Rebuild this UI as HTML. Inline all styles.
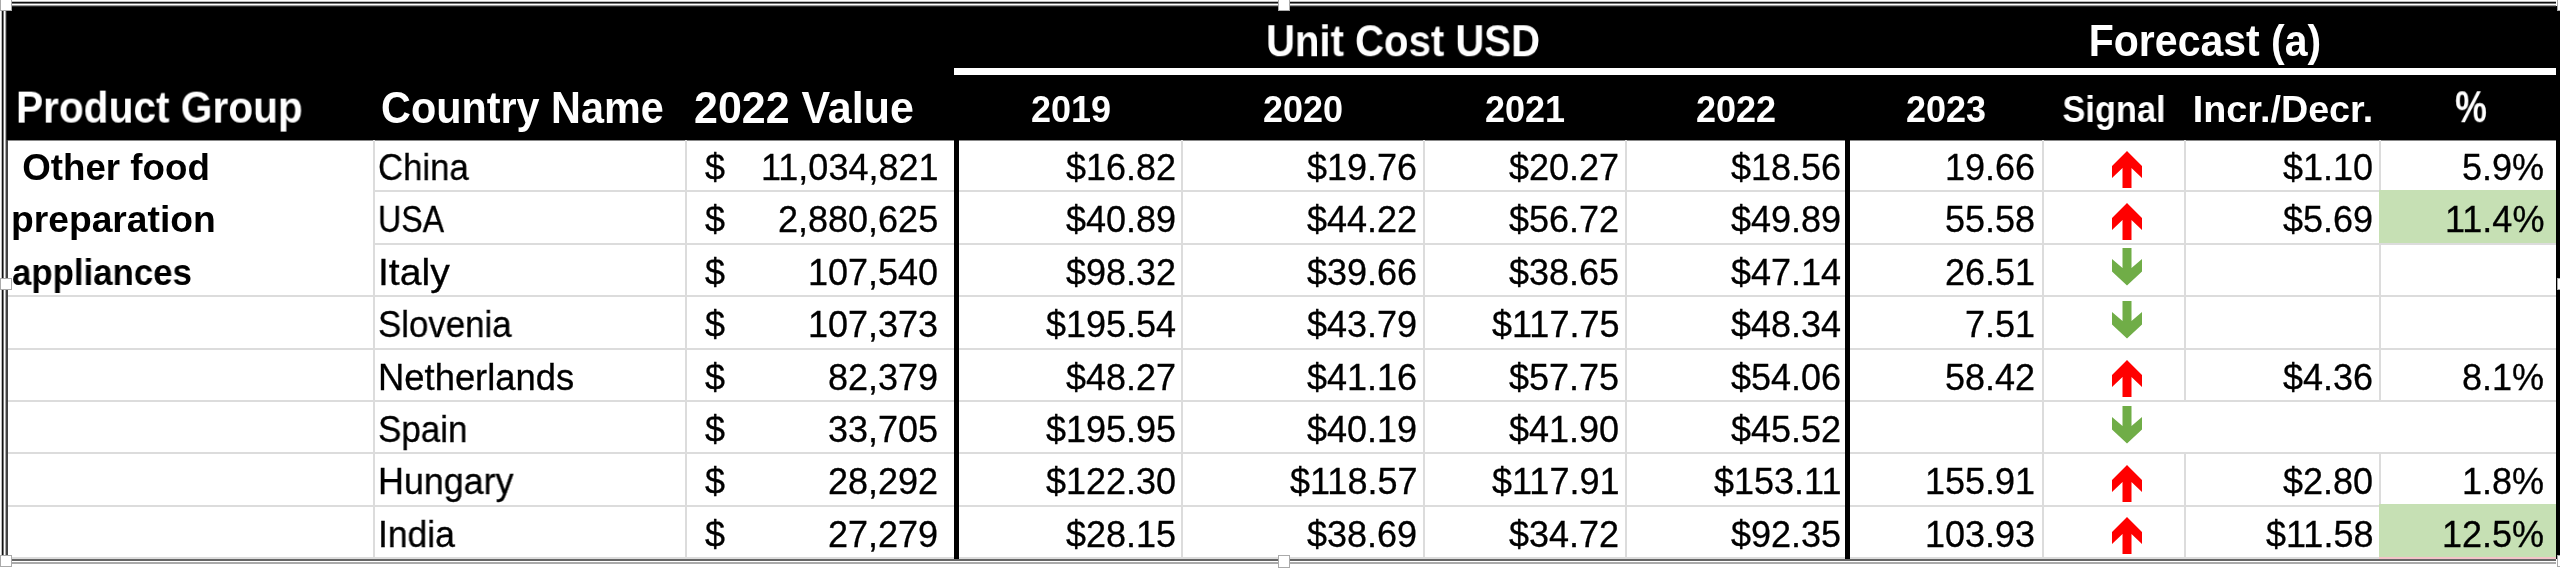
<!DOCTYPE html>
<html><head><meta charset="utf-8"><style>
html,body{margin:0;padding:0;}
body{width:2560px;height:571px;overflow:hidden;position:relative;background:#fff;font-family:"Liberation Sans",sans-serif;}
body>div,body>svg{position:absolute;}
.t{white-space:pre;will-change:transform;}
.r{-webkit-text-stroke:0.3px #000;}
</style></head><body>
<div style="left:0px;top:0px;width:2560px;height:571px;background:#fff;"></div>
<div style="left:6px;top:6px;width:2550px;height:134px;background:#000;"></div>
<div style="left:6px;top:6px;width:2550px;height:1px;background:#2a2a2a;"></div>
<div style="left:6px;top:140px;width:2550px;height:1px;background:#888;"></div>
<div style="left:6px;top:6px;width:1px;height:134px;background:#2a2a2a;"></div>
<div style="left:11px;top:2px;width:2545px;height:1px;background:#111;"></div>
<div style="left:11px;top:1px;width:2545px;height:1px;background:#bbb;"></div>
<div style="left:11px;top:3px;width:2545px;height:1px;background:#777;"></div>
<div style="left:11px;top:5px;width:2545px;height:1px;background:#999;"></div>
<div style="left:2px;top:11px;width:1px;height:550px;background:#111;"></div>
<div style="left:1px;top:11px;width:1px;height:550px;background:#bbb;"></div>
<div style="left:3px;top:11px;width:1px;height:550px;background:#777;"></div>
<div style="left:5px;top:11px;width:1px;height:550px;background:#aaa;"></div>
<div style="left:6px;top:140px;width:2px;height:420px;background:#444;"></div>
<div style="left:954px;top:68px;width:1602px;height:7px;background:#fff;"></div>
<div style="left:373px;top:190px;width:2183px;height:2px;background:#dcdcdc;"></div>
<div style="left:373px;top:243px;width:2183px;height:2px;background:#dcdcdc;"></div>
<div style="left:8px;top:295px;width:2548px;height:2px;background:#dcdcdc;"></div>
<div style="left:8px;top:348px;width:2548px;height:2px;background:#dcdcdc;"></div>
<div style="left:8px;top:400px;width:2548px;height:2px;background:#dcdcdc;"></div>
<div style="left:8px;top:452px;width:2548px;height:2px;background:#dcdcdc;"></div>
<div style="left:8px;top:505px;width:2548px;height:2px;background:#dcdcdc;"></div>
<div style="left:8px;top:557px;width:2548px;height:2px;background:#dcdcdc;"></div>
<div style="left:373px;top:140px;width:2px;height:417px;background:#dcdcdc;"></div>
<div style="left:685px;top:140px;width:2px;height:417px;background:#dcdcdc;"></div>
<div style="left:1181px;top:140px;width:2px;height:417px;background:#dcdcdc;"></div>
<div style="left:1423px;top:140px;width:2px;height:417px;background:#dcdcdc;"></div>
<div style="left:1625px;top:140px;width:2px;height:417px;background:#dcdcdc;"></div>
<div style="left:2042px;top:140px;width:2px;height:417px;background:#dcdcdc;"></div>
<div style="left:2184px;top:140px;width:2px;height:260px;background:#dcdcdc;"></div>
<div style="left:2184px;top:454px;width:2px;height:103px;background:#dcdcdc;"></div>
<div style="left:2379px;top:140px;width:2px;height:260px;background:#dcdcdc;"></div>
<div style="left:2379px;top:454px;width:2px;height:103px;background:#dcdcdc;"></div>
<div style="left:2379px;top:190px;width:177px;height:53px;background:#c6e0b4;"></div>
<div style="left:2379px;top:504px;width:177px;height:53px;background:#c6e0b4;"></div>
<div style="left:954px;top:140px;width:5px;height:419px;background:#000;"></div>
<div style="left:1845px;top:140px;width:5px;height:419px;background:#000;"></div>
<div style="left:2556px;top:6px;width:4px;height:553px;background:#000;"></div>
<div style="left:2379px;top:557px;width:177px;height:2px;background:#f2c4c8;"></div>
<div style="left:8px;top:559px;width:2548px;height:2px;background:#666;"></div>
<div style="left:8px;top:562px;width:2548px;height:2px;background:#aaa;"></div>
<div class="t" style="left:16.00px;top:88.59px;font-size:41px;line-height:41px;font-weight:bold;color:#fff;transform:scale(0.991,1.09);transform-origin:left 34.71px;">Product Group</div>
<div class="t" style="left:381.00px;top:88.59px;font-size:41px;line-height:41px;font-weight:bold;color:#fff;transform:scale(1.009,1.09);transform-origin:left 34.71px;">Country Name</div>
<div class="t" style="left:694.10px;top:88.59px;font-size:41px;line-height:41px;font-weight:bold;color:#fff;transform:scale(1.048,1.09);transform-origin:left 34.71px;">2022 Value</div>
<div class="t" style="left:903.00px;width:1000px;text-align:center;top:21.89px;font-size:41px;line-height:41px;font-weight:bold;color:#fff;transform:scale(0.978,1.1);transform-origin:center 34.71px;">Unit Cost USD</div>
<div class="t" style="left:1704.70px;width:1000px;text-align:center;top:21.89px;font-size:41px;line-height:41px;font-weight:bold;color:#fff;transform:scale(1.0,1.09);transform-origin:center 34.71px;">Forecast (a)</div>
<div class="t" style="left:570.70px;width:1000px;text-align:center;top:92.23px;font-size:36px;line-height:36px;font-weight:bold;color:#fff;">2019</div>
<div class="t" style="left:803.00px;width:1000px;text-align:center;top:92.23px;font-size:36px;line-height:36px;font-weight:bold;color:#fff;">2020</div>
<div class="t" style="left:1024.50px;width:1000px;text-align:center;top:92.23px;font-size:36px;line-height:36px;font-weight:bold;color:#fff;">2021</div>
<div class="t" style="left:1236.30px;width:1000px;text-align:center;top:92.23px;font-size:36px;line-height:36px;font-weight:bold;color:#fff;">2022</div>
<div class="t" style="left:1446.00px;width:1000px;text-align:center;top:92.23px;font-size:36px;line-height:36px;font-weight:bold;color:#fff;">2023</div>
<div class="t" style="left:1613.70px;width:1000px;text-align:center;top:92.23px;font-size:36px;line-height:36px;font-weight:bold;color:#fff;transform:scale(0.955,1.0);transform-origin:center 30.47px;">Signal</div>
<div class="t" style="left:1783.00px;width:1000px;text-align:center;top:92.23px;font-size:36px;line-height:36px;font-weight:bold;color:#fff;transform:scale(1.048,1.0);transform-origin:center 30.47px;">Incr./Decr.</div>
<div class="t" style="left:1970.50px;width:1000px;text-align:center;top:88.29px;font-size:41px;line-height:41px;font-weight:bold;color:#fff;transform:scale(0.87,1.1);transform-origin:center 34.71px;">%</div>
<div class="t r" style="left:378.00px;top:150.03px;font-size:36px;line-height:36px;font-weight:normal;color:#000;transform:scale(0.965,1.0);transform-origin:left 30.47px;">China</div>
<div class="t r" style="left:705.00px;top:150.03px;font-size:36px;line-height:36px;font-weight:normal;color:#000;">$</div>
<div class="t r" style="right:1621.50px;top:150.03px;font-size:36px;line-height:36px;font-weight:normal;color:#000;">11,034,821</div>
<div class="t r" style="right:1384.00px;top:150.03px;font-size:36px;line-height:36px;font-weight:normal;color:#000;">$16.82</div>
<div class="t r" style="right:1143.00px;top:150.03px;font-size:36px;line-height:36px;font-weight:normal;color:#000;">$19.76</div>
<div class="t r" style="right:941.00px;top:150.03px;font-size:36px;line-height:36px;font-weight:normal;color:#000;">$20.27</div>
<div class="t r" style="right:718.50px;top:150.03px;font-size:36px;line-height:36px;font-weight:normal;color:#000;">$18.56</div>
<div class="t r" style="right:524.50px;top:150.03px;font-size:36px;line-height:36px;font-weight:normal;color:#000;">19.66</div>
<div class="t r" style="right:187.00px;top:150.03px;font-size:36px;line-height:36px;font-weight:normal;color:#000;">$1.10</div>
<div class="t r" style="right:16.00px;top:150.03px;font-size:36px;line-height:36px;font-weight:normal;color:#000;">5.9%</div>
<svg style="left:2111px;top:149.60px;width:32px;height:39px" viewBox="0 0 32 39"><polygon fill="#ff0000" points="16,1 31,16 31,28 20.5,18 20.5,38 11.5,38 11.5,18 1,28 1,16"/></svg>
<div class="t r" style="left:378.00px;top:202.43px;font-size:36px;line-height:36px;font-weight:normal;color:#000;transform:scale(0.893,1.0);transform-origin:left 30.47px;">USA</div>
<div class="t r" style="left:705.00px;top:202.43px;font-size:36px;line-height:36px;font-weight:normal;color:#000;">$</div>
<div class="t r" style="right:1621.50px;top:202.43px;font-size:36px;line-height:36px;font-weight:normal;color:#000;">2,880,625</div>
<div class="t r" style="right:1384.00px;top:202.43px;font-size:36px;line-height:36px;font-weight:normal;color:#000;">$40.89</div>
<div class="t r" style="right:1143.00px;top:202.43px;font-size:36px;line-height:36px;font-weight:normal;color:#000;">$44.22</div>
<div class="t r" style="right:941.00px;top:202.43px;font-size:36px;line-height:36px;font-weight:normal;color:#000;">$56.72</div>
<div class="t r" style="right:718.50px;top:202.43px;font-size:36px;line-height:36px;font-weight:normal;color:#000;">$49.89</div>
<div class="t r" style="right:524.50px;top:202.43px;font-size:36px;line-height:36px;font-weight:normal;color:#000;">55.58</div>
<div class="t r" style="right:187.00px;top:202.43px;font-size:36px;line-height:36px;font-weight:normal;color:#000;">$5.69</div>
<div class="t r" style="right:16.00px;top:202.43px;font-size:36px;line-height:36px;font-weight:normal;color:#000;">11.4%</div>
<svg style="left:2111px;top:202.00px;width:32px;height:39px" viewBox="0 0 32 39"><polygon fill="#ff0000" points="16,1 31,16 31,28 20.5,18 20.5,38 11.5,38 11.5,18 1,28 1,16"/></svg>
<div class="t r" style="left:378.00px;top:254.83px;font-size:36px;line-height:36px;font-weight:normal;color:#000;transform:scale(1.087,1.0);transform-origin:left 30.47px;">Italy</div>
<div class="t r" style="left:705.00px;top:254.83px;font-size:36px;line-height:36px;font-weight:normal;color:#000;">$</div>
<div class="t r" style="right:1621.50px;top:254.83px;font-size:36px;line-height:36px;font-weight:normal;color:#000;">107,540</div>
<div class="t r" style="right:1384.00px;top:254.83px;font-size:36px;line-height:36px;font-weight:normal;color:#000;">$98.32</div>
<div class="t r" style="right:1143.00px;top:254.83px;font-size:36px;line-height:36px;font-weight:normal;color:#000;">$39.66</div>
<div class="t r" style="right:941.00px;top:254.83px;font-size:36px;line-height:36px;font-weight:normal;color:#000;">$38.65</div>
<div class="t r" style="right:718.50px;top:254.83px;font-size:36px;line-height:36px;font-weight:normal;color:#000;">$47.14</div>
<div class="t r" style="right:524.50px;top:254.83px;font-size:36px;line-height:36px;font-weight:normal;color:#000;">26.51</div>
<svg style="left:2111px;top:248.40px;width:32px;height:39px" viewBox="0 0 32 39"><polygon fill="#70ad47" points="11.5,0 20.5,0 20.5,20 31,11 31,23.5 16,37.5 1,23.5 1,11 11.5,20"/></svg>
<div class="t r" style="left:378.00px;top:307.23px;font-size:36px;line-height:36px;font-weight:normal;color:#000;transform:scale(0.968,1.0);transform-origin:left 30.47px;">Slovenia</div>
<div class="t r" style="left:705.00px;top:307.23px;font-size:36px;line-height:36px;font-weight:normal;color:#000;">$</div>
<div class="t r" style="right:1621.50px;top:307.23px;font-size:36px;line-height:36px;font-weight:normal;color:#000;">107,373</div>
<div class="t r" style="right:1384.00px;top:307.23px;font-size:36px;line-height:36px;font-weight:normal;color:#000;">$195.54</div>
<div class="t r" style="right:1143.00px;top:307.23px;font-size:36px;line-height:36px;font-weight:normal;color:#000;">$43.79</div>
<div class="t r" style="right:941.00px;top:307.23px;font-size:36px;line-height:36px;font-weight:normal;color:#000;">$117.75</div>
<div class="t r" style="right:718.50px;top:307.23px;font-size:36px;line-height:36px;font-weight:normal;color:#000;">$48.34</div>
<div class="t r" style="right:524.50px;top:307.23px;font-size:36px;line-height:36px;font-weight:normal;color:#000;">7.51</div>
<svg style="left:2111px;top:300.80px;width:32px;height:39px" viewBox="0 0 32 39"><polygon fill="#70ad47" points="11.5,0 20.5,0 20.5,20 31,11 31,23.5 16,37.5 1,23.5 1,11 11.5,20"/></svg>
<div class="t r" style="left:378.00px;top:359.63px;font-size:36px;line-height:36px;font-weight:normal;color:#000;transform:scale(1.011,1.0);transform-origin:left 30.47px;">Netherlands</div>
<div class="t r" style="left:705.00px;top:359.63px;font-size:36px;line-height:36px;font-weight:normal;color:#000;">$</div>
<div class="t r" style="right:1621.50px;top:359.63px;font-size:36px;line-height:36px;font-weight:normal;color:#000;">82,379</div>
<div class="t r" style="right:1384.00px;top:359.63px;font-size:36px;line-height:36px;font-weight:normal;color:#000;">$48.27</div>
<div class="t r" style="right:1143.00px;top:359.63px;font-size:36px;line-height:36px;font-weight:normal;color:#000;">$41.16</div>
<div class="t r" style="right:941.00px;top:359.63px;font-size:36px;line-height:36px;font-weight:normal;color:#000;">$57.75</div>
<div class="t r" style="right:718.50px;top:359.63px;font-size:36px;line-height:36px;font-weight:normal;color:#000;">$54.06</div>
<div class="t r" style="right:524.50px;top:359.63px;font-size:36px;line-height:36px;font-weight:normal;color:#000;">58.42</div>
<div class="t r" style="right:187.00px;top:359.63px;font-size:36px;line-height:36px;font-weight:normal;color:#000;">$4.36</div>
<div class="t r" style="right:16.00px;top:359.63px;font-size:36px;line-height:36px;font-weight:normal;color:#000;">8.1%</div>
<svg style="left:2111px;top:359.20px;width:32px;height:39px" viewBox="0 0 32 39"><polygon fill="#ff0000" points="16,1 31,16 31,28 20.5,18 20.5,38 11.5,38 11.5,18 1,28 1,16"/></svg>
<div class="t r" style="left:378.00px;top:412.03px;font-size:36px;line-height:36px;font-weight:normal;color:#000;transform:scale(0.972,1.0);transform-origin:left 30.47px;">Spain</div>
<div class="t r" style="left:705.00px;top:412.03px;font-size:36px;line-height:36px;font-weight:normal;color:#000;">$</div>
<div class="t r" style="right:1621.50px;top:412.03px;font-size:36px;line-height:36px;font-weight:normal;color:#000;">33,705</div>
<div class="t r" style="right:1384.00px;top:412.03px;font-size:36px;line-height:36px;font-weight:normal;color:#000;">$195.95</div>
<div class="t r" style="right:1143.00px;top:412.03px;font-size:36px;line-height:36px;font-weight:normal;color:#000;">$40.19</div>
<div class="t r" style="right:941.00px;top:412.03px;font-size:36px;line-height:36px;font-weight:normal;color:#000;">$41.90</div>
<div class="t r" style="right:718.50px;top:412.03px;font-size:36px;line-height:36px;font-weight:normal;color:#000;">$45.52</div>
<svg style="left:2111px;top:405.60px;width:32px;height:39px" viewBox="0 0 32 39"><polygon fill="#70ad47" points="11.5,0 20.5,0 20.5,20 31,11 31,23.5 16,37.5 1,23.5 1,11 11.5,20"/></svg>
<div class="t r" style="left:378.00px;top:464.43px;font-size:36px;line-height:36px;font-weight:normal;color:#000;transform:scale(0.996,1.0);transform-origin:left 30.47px;">Hungary</div>
<div class="t r" style="left:705.00px;top:464.43px;font-size:36px;line-height:36px;font-weight:normal;color:#000;">$</div>
<div class="t r" style="right:1621.50px;top:464.43px;font-size:36px;line-height:36px;font-weight:normal;color:#000;">28,292</div>
<div class="t r" style="right:1384.00px;top:464.43px;font-size:36px;line-height:36px;font-weight:normal;color:#000;">$122.30</div>
<div class="t r" style="right:1143.00px;top:464.43px;font-size:36px;line-height:36px;font-weight:normal;color:#000;">$118.57</div>
<div class="t r" style="right:941.00px;top:464.43px;font-size:36px;line-height:36px;font-weight:normal;color:#000;">$117.91</div>
<div class="t r" style="right:718.50px;top:464.43px;font-size:36px;line-height:36px;font-weight:normal;color:#000;">$153.11</div>
<div class="t r" style="right:524.50px;top:464.43px;font-size:36px;line-height:36px;font-weight:normal;color:#000;">155.91</div>
<div class="t r" style="right:187.00px;top:464.43px;font-size:36px;line-height:36px;font-weight:normal;color:#000;">$2.80</div>
<div class="t r" style="right:16.00px;top:464.43px;font-size:36px;line-height:36px;font-weight:normal;color:#000;">1.8%</div>
<svg style="left:2111px;top:464.00px;width:32px;height:39px" viewBox="0 0 32 39"><polygon fill="#ff0000" points="16,1 31,16 31,28 20.5,18 20.5,38 11.5,38 11.5,18 1,28 1,16"/></svg>
<div class="t r" style="left:378.00px;top:516.83px;font-size:36px;line-height:36px;font-weight:normal;color:#000;transform:scale(0.985,1.0);transform-origin:left 30.47px;">India</div>
<div class="t r" style="left:705.00px;top:516.83px;font-size:36px;line-height:36px;font-weight:normal;color:#000;">$</div>
<div class="t r" style="right:1621.50px;top:516.83px;font-size:36px;line-height:36px;font-weight:normal;color:#000;">27,279</div>
<div class="t r" style="right:1384.00px;top:516.83px;font-size:36px;line-height:36px;font-weight:normal;color:#000;">$28.15</div>
<div class="t r" style="right:1143.00px;top:516.83px;font-size:36px;line-height:36px;font-weight:normal;color:#000;">$38.69</div>
<div class="t r" style="right:941.00px;top:516.83px;font-size:36px;line-height:36px;font-weight:normal;color:#000;">$34.72</div>
<div class="t r" style="right:718.50px;top:516.83px;font-size:36px;line-height:36px;font-weight:normal;color:#000;">$92.35</div>
<div class="t r" style="right:524.50px;top:516.83px;font-size:36px;line-height:36px;font-weight:normal;color:#000;">103.93</div>
<div class="t r" style="right:187.00px;top:516.83px;font-size:36px;line-height:36px;font-weight:normal;color:#000;">$11.58</div>
<div class="t r" style="right:16.00px;top:516.83px;font-size:36px;line-height:36px;font-weight:normal;color:#000;">12.5%</div>
<svg style="left:2111px;top:516.40px;width:32px;height:39px" viewBox="0 0 32 39"><polygon fill="#ff0000" points="16,1 31,16 31,28 20.5,18 20.5,38 11.5,38 11.5,18 1,28 1,16"/></svg>
<div class="t" style="left:12.00px;top:150.03px;font-size:36px;line-height:36px;font-weight:bold;color:#000;transform:scale(1.02,1.0);transform-origin:left 30.47px;">&nbsp;Other food</div>
<div class="t" style="left:11.30px;top:202.43px;font-size:36px;line-height:36px;font-weight:bold;color:#000;transform:scale(1.034,1.0);transform-origin:left 30.47px;">preparation</div>
<div class="t" style="left:11.80px;top:254.83px;font-size:36px;line-height:36px;font-weight:bold;color:#000;transform:scale(0.967,1.0);transform-origin:left 30.47px;">appliances</div>
<div style="left:0px;top:-1px;width:12px;height:12px;background:#fff;box-sizing:border-box;border:1px solid #aaa;"></div>
<div style="left:1278px;top:-1px;width:12px;height:12px;background:#fff;box-sizing:border-box;border:1px solid #aaa;"></div>
<div style="left:2557px;top:-1px;width:8px;height:12px;background:#fff;box-sizing:border-box;border:1px solid #aaa;"></div>
<div style="left:0px;top:278px;width:12px;height:12px;background:#fff;box-sizing:border-box;border:1px solid #aaa;"></div>
<div style="left:2557px;top:278px;width:8px;height:12px;background:#fff;box-sizing:border-box;border:1px solid #aaa;"></div>
<div style="left:0px;top:555px;width:12px;height:12px;background:#fff;box-sizing:border-box;border:1px solid #aaa;"></div>
<div style="left:1278px;top:555px;width:12px;height:13px;background:#fff;box-sizing:border-box;border:1px solid #aaa;"></div>
<div style="left:2557px;top:555px;width:8px;height:12px;background:#fff;box-sizing:border-box;border:1px solid #aaa;"></div>
</body></html>
